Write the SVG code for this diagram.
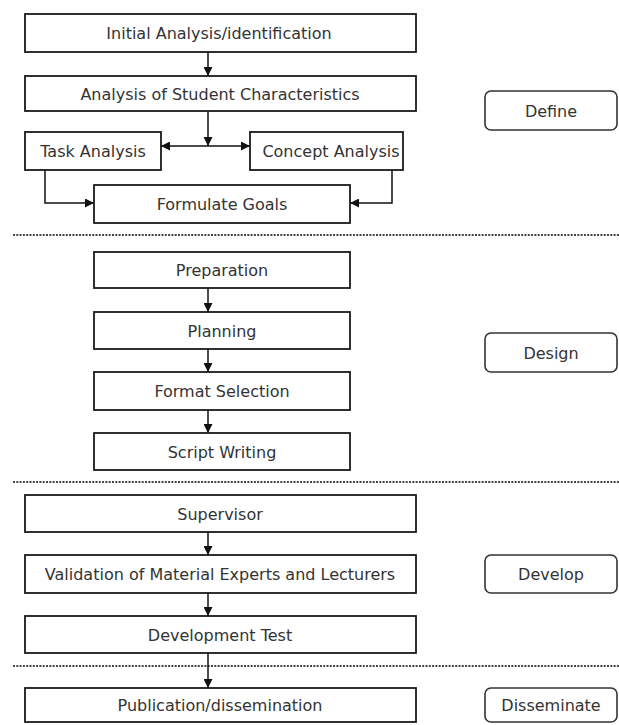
<svg xmlns="http://www.w3.org/2000/svg" width="619" height="725" viewBox="0 0 619 725">
<style>
.box{fill:#fff;stroke:#1a1a1a;stroke-width:1.8}
.phase{fill:#fff;stroke:#333;stroke-width:1.6}
.t{font-family:"DejaVu Sans",sans-serif;font-size:16px;fill:#333;text-anchor:middle}
.c{fill:none;stroke:#111;stroke-width:1.5}
.dot{stroke:#444;stroke-width:2;stroke-dasharray:2 1.3}
</style>
<defs>
<marker id="ah" markerWidth="9" markerHeight="9" refX="9" refY="4.5" orient="auto" markerUnits="userSpaceOnUse">
<path d="M0,0 L9,4.5 L0,9 Z" fill="#111"/>
</marker>
</defs>
<rect width="619" height="725" fill="#fff"/>
<g id="separators">
<line class="dot" x1="13" y1="235" x2="619" y2="235"/>
<line class="dot" x1="13" y1="482" x2="619" y2="482"/>
<line class="dot" x1="13" y1="666" x2="619" y2="666"/>
</g>
<g id="connectors">
<line class="c" x1="208" y1="52" x2="208" y2="76" marker-end="url(#ah)"/>
<line class="c" x1="208" y1="111" x2="208" y2="146" marker-end="url(#ah)"/>
<line class="c" x1="208" y1="146" x2="161" y2="146" marker-end="url(#ah)"/>
<line class="c" x1="208" y1="146" x2="250" y2="146" marker-end="url(#ah)"/>
<polyline class="c" points="45,170 45,203 94,203" marker-end="url(#ah)"/>
<polyline class="c" points="392,170 392,203 350,203" marker-end="url(#ah)"/>
<line class="c" x1="208" y1="288" x2="208" y2="312" marker-end="url(#ah)"/>
<line class="c" x1="208" y1="349" x2="208" y2="372" marker-end="url(#ah)"/>
<line class="c" x1="208" y1="410" x2="208" y2="433" marker-end="url(#ah)"/>
<line class="c" x1="208" y1="532" x2="208" y2="555" marker-end="url(#ah)"/>
<line class="c" x1="208" y1="593" x2="208" y2="616" marker-end="url(#ah)"/>
<line class="c" x1="208" y1="653" x2="208" y2="688" marker-end="url(#ah)"/>
</g>
<g id="initial"><rect class="box" x="25" y="14" width="391" height="38"/><text class="t" x="219" y="39">Initial Analysis/identification</text></g>
<g id="student"><rect class="box" x="25" y="76" width="391" height="35"/><text class="t" x="220" y="99.5">Analysis of Student Characteristics</text></g>
<g id="task"><rect class="box" x="25" y="132" width="136" height="38"/><text class="t" x="93" y="157">Task Analysis</text></g>
<g id="concept"><rect class="box" x="250" y="132" width="153" height="38"/><text class="t" x="331" y="157">Concept Analysis</text></g>
<g id="goals"><rect class="box" x="94" y="185" width="256" height="38"/><text class="t" x="222" y="210">Formulate Goals</text></g>
<g id="define"><rect class="phase" x="485" y="91" width="132" height="39" rx="6"/><text class="t" x="551" y="116.5">Define</text></g>
<g id="preparation"><rect class="box" x="94" y="252" width="256" height="36"/><text class="t" x="222" y="276">Preparation</text></g>
<g id="planning"><rect class="box" x="94" y="312" width="256" height="37"/><text class="t" x="222" y="336.5">Planning</text></g>
<g id="format"><rect class="box" x="94" y="372" width="256" height="38"/><text class="t" x="222" y="397">Format Selection</text></g>
<g id="script"><rect class="box" x="94" y="433" width="256" height="37"/><text class="t" x="222" y="457.5">Script Writing</text></g>
<g id="design"><rect class="phase" x="485" y="333" width="132" height="39" rx="6"/><text class="t" x="551" y="358.5">Design</text></g>
<g id="supervisor"><rect class="box" x="25" y="495" width="391" height="37"/><text class="t" x="220" y="519.5">Supervisor</text></g>
<g id="validation"><rect class="box" x="25" y="555" width="391" height="38"/><text class="t" x="220" y="580">Validation of Material Experts and Lecturers</text></g>
<g id="devtest"><rect class="box" x="25" y="616" width="391" height="37"/><text class="t" x="220" y="640.5">Development Test</text></g>
<g id="develop"><rect class="phase" x="485" y="555" width="132" height="38" rx="6"/><text class="t" x="551" y="580">Develop</text></g>
<g id="publication"><rect class="box" x="25" y="688" width="391" height="34"/><text class="t" x="220" y="710.5">Publication/dissemination</text></g>
<g id="disseminate"><rect class="phase" x="485" y="688" width="132" height="34" rx="6"/><text class="t" x="551" y="710.5">Disseminate</text></g>
</svg>
